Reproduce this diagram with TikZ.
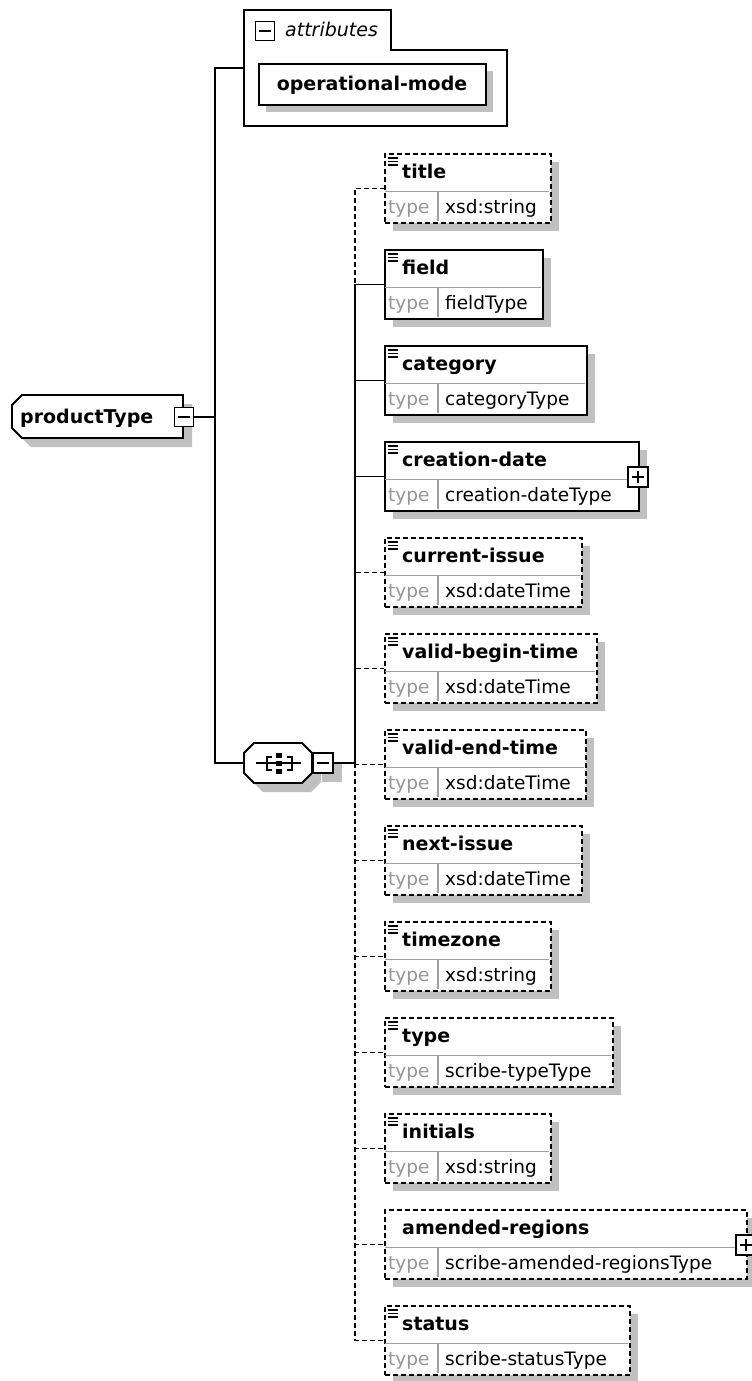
\documentclass[tikz,border=0pt]{standalone}
\usepackage{fontspec}
\setmainfont{DejaVu Sans}
\usetikzlibrary{calc}
\definecolor{shadowc}{HTML}{C0C0C0}
\definecolor{sepc}{HTML}{A0A0A0}
\definecolor{typec}{HTML}{969696}
\tikzset{
  ol/.style={line width=1.8pt},
  ebox/.style={draw, ol, fill=white, minimum height=69pt, inner sep=0pt},
  optb/.style={dash pattern=on 5pt off 3pt},
  reqb/.style={},
  sq/.style={draw, ol, fill=white, minimum size=19pt, inner sep=0pt},
  nametxt/.style={font=\fontsize{19}{22}\selectfont\bfseries, inner sep=0pt},
  valtxt/.style={font=\fontsize{18.5}{22}\selectfont, inner sep=0pt},
  typetxt/.style={valtxt, text=typec},
  sepl/.style={draw=sepc, line width=1.2pt},
  conn/.style={ol},
  optc/.style={ol, dash pattern=on 5pt off 3pt},
  glyph/.style={line width=1.5pt},
}
\newcommand\xminus[1]{\draw[glyph] ([xshift=-6pt]#1.center) -- ([xshift=6pt]#1.center);}
\newcommand\xplus[1]{\xminus{#1}\draw[glyph] ([yshift=-6pt]#1.center) -- ([yshift=6pt]#1.center);}
\newcommand\xicon[1]{\foreach \d in {5,8.5,12} {\draw[line width=1.2pt] (388,#1+\d) -- (398,#1+\d);}}
% id, name, top, right, border style, value
\newcommand\xelem[6]{%
  \pgfmathsetmacro\xw{#4-384}%
  \fill[shadowc] (393,#3+9) rectangle (#4+9,#3+78);
  \node[ebox, #5, minimum width=\xw pt, anchor=north west] (#1) at (384,#3) {};
  \draw[sepl] (385,#3+38.5) -- (#4-1,#3+38.5);
  \draw[sepl] (438,#3+38.5) -- (438,#3+68);
  \node[nametxt, anchor=base west] (#1-n) at (402,#3+25) {#2};
  \node[typetxt, anchor=base west] (#1-t) at (388,#3+60) {type};
  \node[valtxt, anchor=base west] (#1-v) at (445,#3+60) {#6};
}
\begin{document}
\begin{tikzpicture}[x=1pt,y=-1pt]
\useasboundingbox (0,0) rectangle (752,1381);
\fill[white] (0,0) rectangle (752,1381);

% ---------- attributes group ----------
\draw[ol] (244,126) -- (244,10) -- (391,10) -- (391,50) -- (507,50) -- (507,126) -- cycle;
\node[sq] (attm) at (265,31) {};
\xminus{attm}
\node[font=\fontsize{19}{22}\selectfont\itshape, inner sep=0pt, anchor=base west] (attl) at (285,37) {attributes};
\fill[shadowc] (266,71) rectangle (493,112);
\node[draw, ol, fill=white, minimum width=227pt, minimum height=41pt, inner sep=0pt, anchor=north west] (opm) at (258,63) {};
\node[nametxt, anchor=base] (opm-n) at (372,90) {operational-mode};
\coordinate (attin) at (244,68);

% ---------- productType ----------
\fill[shadowc] (31,404) -- (192,404) -- (192,447) -- (31,447) -- (21,437) -- (21,414) -- cycle;
\draw[ol, fill=white] (22,395) -- (183,395) -- (183,438) -- (22,438) -- (12,428) -- (12,405) -- cycle;
\node[nametxt, anchor=base west] (pt) at (20,423) {productType};
\node[sq] (ptm) at (184,417) {};
\xminus{ptm}

% ---------- sequence compositor ----------
\fill[shadowc] (263,752) -- (311,752) -- (321,762) -- (321,782) -- (311,792) -- (263,792) -- (253,782) -- (253,762) -- cycle;
\draw[ol, fill=white] (254,743) -- (302,743) -- (312,753) -- (312,773) -- (302,783) -- (254,783) -- (244,773) -- (244,753) -- cycle;
\node[minimum width=68pt, minimum height=40pt, inner sep=0pt] (seq) at (278,763) {};
\draw[line width=1.5pt] (256,763) -- (301,763);
\draw[line width=1.5pt] (272,757) -- (267,757) -- (267,770) -- (272,770);
\draw[line width=1.5pt] (287,757) -- (292,757) -- (292,770) -- (287,770);
\foreach \yy in {755,763,771} {\fill (276,\yy-2.5) rectangle (282,\yy+2.5);}
\fill[shadowc] (322,762) rectangle (342,782);
\node[sq, minimum size=20pt] (seqm) at (323,763) {};
\xminus{seqm}

% ---------- trunk from productType ----------
\coordinate (trk) at (215,417);
\draw[conn] (ptm.east) -- (trk);
\draw[conn] (trk) |- (attin);
\draw[conn] (trk) |- (seq.west);

% ---------- child elements ----------
\xelem{title}{title}{153}{550}{optb}{xsd:string}\xicon{153}
\xelem{field}{field}{249}{542}{reqb}{fieldType}\xicon{249}
\xelem{category}{category}{345}{586}{reqb}{categoryType}\xicon{345}
\xelem{cdate}{creation-date}{441}{638}{reqb}{creation-dateType}\xicon{441}
\node[sq, minimum size=20pt] (cdatep) at (638,477) {};
\xplus{cdatep}
\xelem{curi}{current-issue}{537}{581}{optb}{xsd:dateTime}\xicon{537}
\xelem{vbt}{valid-begin-time}{633}{596}{optb}{xsd:dateTime}\xicon{633}
\xelem{vet}{valid-end-time}{729}{585}{optb}{xsd:dateTime}\xicon{729}
\xelem{nxi}{next-issue}{825}{581}{optb}{xsd:dateTime}\xicon{825}
\xelem{tz}{timezone}{921}{550}{optb}{xsd:string}\xicon{921}
\xelem{typ}{type}{1017}{612}{optb}{scribe-typeType}\xicon{1017}
\xelem{ini}{initials}{1113}{550}{optb}{xsd:string}\xicon{1113}
\xelem{amr}{amended-regions}{1209}{746}{optb}{scribe-amended-regionsType}
\node[sq, minimum size=20pt] (amrp) at (746,1245) {};
\xplus{amrp}
\xelem{sta}{status}{1305}{629}{optb}{scribe-statusType}\xicon{1305}

% ---------- connectors from sequence ----------
\coordinate (sj) at (355,763);
\draw[conn] (seqm.east) -- (sj);
\foreach \c in {title,curi,vbt,vet,nxi,tz,typ,ini,amr,sta} {\draw[optc] (sj) |- (\c.west);}
\foreach \c in {field,category,cdate} {\draw[conn] (sj) |- (\c.west);}
\end{tikzpicture}
\end{document}
